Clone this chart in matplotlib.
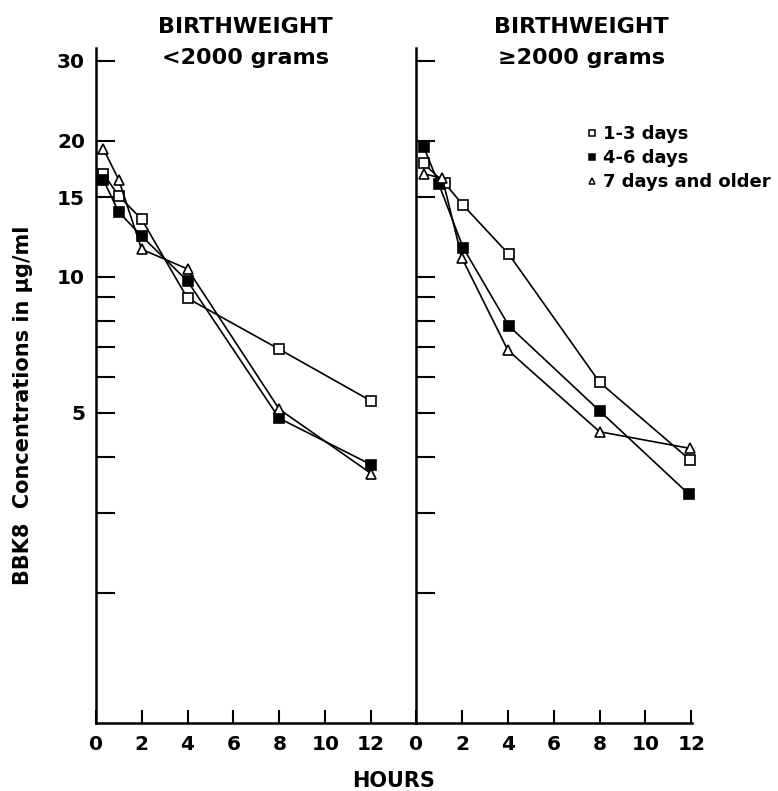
import matplotlib
matplotlib.use("Agg")
import matplotlib.pyplot as plt
from matplotlib.ticker import FixedLocator, FixedFormatter, NullLocator
from matplotlib.lines import Line2D

# ---------------- data ----------------
series_labels = ["1-3 days", "4-6 days", "7 days and older"]

# Birthweight < 2000 g
left_hours = [0.33, 1, 2, 4, 8, 12]
left_1_3 = [16.9, 15.1, 13.4, 8.96, 6.91, 5.31]
left_4_6 = [16.4, 13.9, 12.3, 9.78, 4.86, 3.84]
left_7up = [19.2, 16.4, 11.5, 10.4, 5.09, 3.67]

# Birthweight >= 2000 g
right_hours_1_3 = [0.33, 1.25, 2.05, 4.05, 8, 11.95]
right_hours_4_6 = [0.33, 1.0, 2.05, 4.05, 8, 11.9]
right_hours_7up = [0.33, 1.15, 2.0, 4.0, 8, 11.95]
right_1_3 = [17.8, 16.1, 14.4, 11.2, 5.84, 3.93]
right_4_6 = [19.4, 16.0, 11.6, 7.78, 5.05, 3.30]
right_7up = [16.9, 16.5, 11.0, 6.88, 4.54, 4.17]

x_ticks = [0, 2, 4, 6, 8, 10, 12]
y_ticks = [2, 3, 4, 5, 6, 7, 8, 9, 10, 15, 20, 30]
y_labels = ["", "", "", "5", "", "", "", "", "10", "15", "20", "30"]

ylabel = "BBK8  Concentrations in \u03bcg/ml"
xlabel = "HOURS"

# ---------------- figure ----------------
plt.rcParams["font.family"] = ["DejaVu Sans"]
plt.rcParams["font.weight"] = "bold"

W, H = 778, 791
fig = plt.figure(figsize=(W / 100, H / 100), dpi=100)

x0, x_mid, x1 = 95.7, 416, 692
y_top, y_bot = 48.3, 723
pxh = 22.95

ax1 = fig.add_axes([x0 / W, 1 - y_bot / H, (x_mid - x0) / W, (y_bot - y_top) / H])
ax2 = fig.add_axes([x_mid / W, 1 - y_bot / H, (x1 - x_mid) / W, (y_bot - y_top) / H])

styles = [
    dict(marker="s", mfc="white", mec="black"),
    dict(marker="s", mfc="black", mec="black"),
    dict(marker="^", mfc="white", mec="black"),
]

left_data = [(left_hours, left_1_3), (left_hours, left_4_6), (left_hours, left_7up)]
right_data = [(right_hours_1_3, right_1_3), (right_hours_4_6, right_4_6),
              (right_hours_7up, right_7up)]

for ax, data in ((ax1, left_data), (ax2, right_data)):
    for (xs, ys), st in zip(data, styles):
        ax.plot(xs, ys, color="black", lw=1.2, ms=6.5, mew=1.2, zorder=3,
                clip_on=False, **st)
    ax.set_yscale("log")
    ax.set_ylim(1.03, 32)
    ax.yaxis.set_major_locator(FixedLocator(y_ticks))
    ax.yaxis.set_major_formatter(FixedFormatter(y_labels))
    ax.yaxis.set_minor_locator(NullLocator())
    ax.xaxis.set_major_locator(FixedLocator(x_ticks))
    ax.xaxis.set_minor_locator(NullLocator())
    for s in ("top", "right"):
        ax.spines[s].set_visible(False)
    for s in ("left", "bottom"):
        ax.spines[s].set_linewidth(1.8)
    ax.tick_params(axis="y", direction="in", length=13.7, width=1.5,
                   labelsize=14.5, pad=7.7)
    ax.tick_params(axis="x", direction="in", length=9.4, width=1.5,
                   labelsize=14.5, pad=8.5)
    ax.set_facecolor("none")

ax1.set_xlim(0, (x_mid - x0) / pxh)
ax2.set_xlim(0, (x1 - x_mid) / pxh)
ax2.tick_params(axis="y", labelleft=False)

# titles
fig.text(245 / W, 1 - 33 / H, "BIRTHWEIGHT", ha="center", va="baseline",
         fontsize=16, fontweight="bold")
fig.text(245 / W, 1 - 64 / H, "<2000 grams", ha="center", va="baseline",
         fontsize=16, fontweight="bold")
fig.text(581 / W, 1 - 33 / H, "BIRTHWEIGHT", ha="center", va="baseline",
         fontsize=16, fontweight="bold")
fig.text(581 / W, 1 - 64 / H, "\u22652000 grams", ha="center", va="baseline",
         fontsize=16, fontweight="bold")

fig.text(23 / W, 1 - 405 / H, ylabel, rotation=90, ha="center", va="center",
         fontsize=15, fontweight="bold")
fig.text(394 / W, 1 - 781 / H, xlabel, ha="center", va="center",
         fontsize=15, fontweight="bold")

handles = [Line2D([], [], ls="none", color="black", ms=5, mew=1.1, **st)
           for st in styles]
ax2.legend(handles, series_labels, loc="upper left",
           bbox_to_anchor=(587 / W, 1 - 125 / H), bbox_transform=fig.transFigure,
           frameon=False, handlelength=0.6, handletextpad=0.3, labelspacing=0.33,
           borderpad=0, borderaxespad=0,
           prop=dict(size=13, weight="bold"))

fig.savefig("out.png", dpi=100, facecolor="white")
